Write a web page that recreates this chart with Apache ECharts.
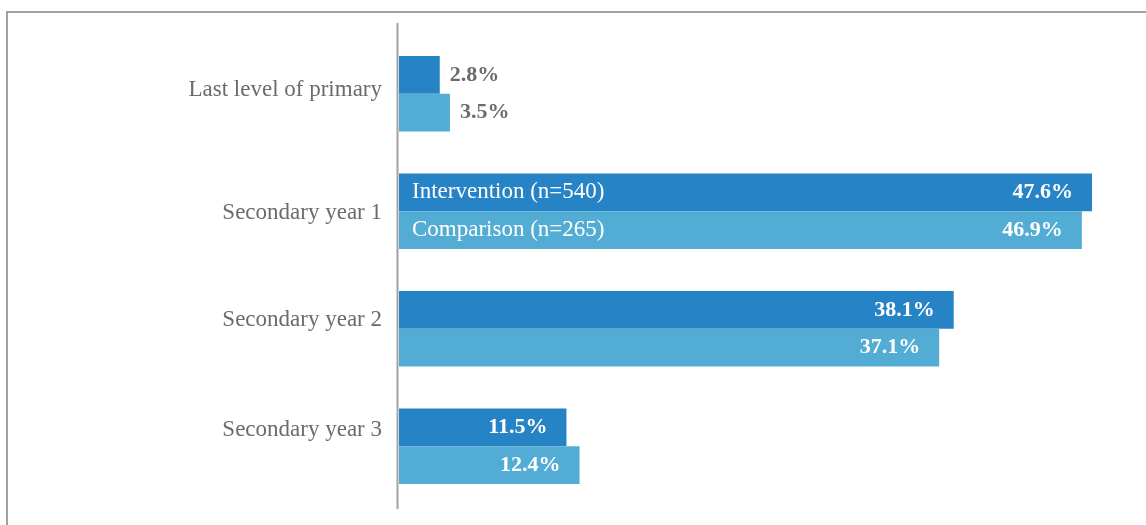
<!DOCTYPE html>
<html>
<head>
<meta charset="utf-8">
<script src="https://cdn.jsdelivr.net/npm/echarts@6/dist/echarts.min.js"></script>
<style>
  body { margin: 0; background: #fff; }
  #chart { width: 1146px; height: 525px; }
</style>
</head>
<body>
<div id="chart"></div>
<script>
// data
const categories = ['Last level of primary', 'Secondary year 1', 'Secondary year 2', 'Secondary year 3'];
const intervention = [2.8, 47.6, 38.1, 11.5];
const comparison = [3.5, 46.9, 37.1, 12.4];
const seriesNames = ['Intervention (n=540)', 'Comparison (n=265)'];
const nameRow = 1; // category where the series names sit inside the bars

const darkBlue = '#2683c6';
const lightBlue = '#52acd4';
const serif = '"Liberation Serif", "DejaVu Serif", serif';

// the original's category labels do not sit exactly on the band centres
const labelShift = [-4, 2, -9, -16];

var myChart = echarts.init(document.getElementById('chart'));

// value labels: outside for the small bars, inside right for the long ones
function valueLabel(val) {
  if (val < 8) {
    return { show: true, position: 'right', distance: 10, color: '#6b6b6b' };
  }
  return { show: true, position: 'insideRight', distance: 19, color: '#ffffff' };
}

function makeData(values) {
  return values.map(v => ({ value: v, label: valueLabel(v) }));
}

function nameOverlay(values, name) {
  return {
    name: name + '_label',
    type: 'bar',
    xAxisIndex: 0,
    yAxisIndex: 1,
    data: values,
    barGap: 0,
    barCategoryGap: '35.6%',
    itemStyle: { color: 'rgba(0,0,0,0)' },
    silent: true,
    label: {
      show: true,
      position: 'insideLeft',
      distance: 13,
      color: '#ffffff',
      fontFamily: serif,
      fontSize: 23,
      formatter: p => (p.dataIndex === nameRow ? name : '')
    }
  };
}

// one rich style per category label, padded to nudge it up or down
var labelRich = {};
labelShift.forEach((s, i) => {
  labelRich['c' + i] = {
    color: '#6b6b6b',
    fontFamily: serif,
    fontSize: 23,
    padding: s < 0 ? [0, 0, -2 * s, 0] : [2 * s, 0, 0, 0]
  };
});

var option = {
  animation: false,
  grid: { left: 399, right: 19, top: 35, bottom: 20 },
  xAxis: {
    type: 'value',
    min: 0,
    max: 50,
    show: false
  },
  yAxis: [
    {
      type: 'category',
      data: categories,
      inverse: true,
      axisLine: { show: false },
      axisTick: { show: false },
      axisLabel: {
        margin: 17,
        color: '#6b6b6b',
        fontFamily: serif,
        fontSize: 23,
        formatter: (value, index) => '{c' + index + '|' + value + '}',
        rich: labelRich
      }
    },
    {
      type: 'category',
      data: categories,
      inverse: true,
      show: false
    }
  ],
  graphic: [
    // outer frame (top and left edges visible)
    {
      type: 'rect',
      shape: { x: 7, y: 12, width: 1300, height: 700 },
      style: { fill: 'none', stroke: '#a2a2a2', lineWidth: 2 },
      silent: true
    },
    // vertical axis line
    {
      type: 'line',
      shape: { x1: 397.5, y1: 23, x2: 397.5, y2: 509 },
      style: { stroke: '#a2a2a2', lineWidth: 2 },
      silent: true
    }
  ],
  series: [
    {
      name: seriesNames[0],
      type: 'bar',
      data: makeData(intervention),
      barGap: 0,
      barCategoryGap: '35.6%',
      itemStyle: { color: darkBlue },
      label: {
        fontFamily: serif,
        fontWeight: 'bold',
        fontSize: 22,
        formatter: p => p.value.toFixed(1) + '%'
      }
    },
    {
      name: seriesNames[1],
      type: 'bar',
      data: makeData(comparison),
      barGap: 0,
      barCategoryGap: '35.6%',
      itemStyle: { color: lightBlue },
      label: {
        fontFamily: serif,
        fontWeight: 'bold',
        fontSize: 22,
        formatter: p => p.value.toFixed(1) + '%'
      }
    },
    nameOverlay(intervention, seriesNames[0]),
    nameOverlay(comparison, seriesNames[1])
  ]
};

myChart.setOption(option);
</script>
</body>
</html>
